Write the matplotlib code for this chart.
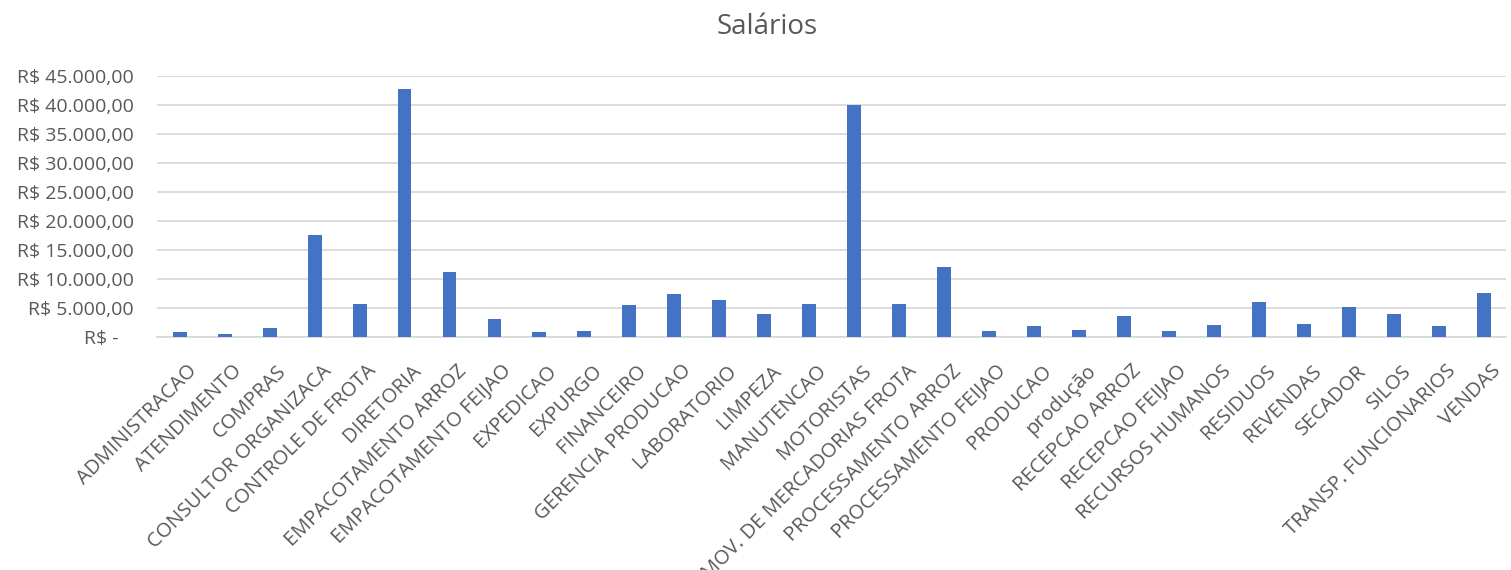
import numpy as np
import matplotlib.pyplot as plt
import matplotlib.transforms as mtransforms
from matplotlib.ticker import FuncFormatter

# setores e salarios
setores = ["ADMINISTRACAO", "ATENDIMENTO", "COMPRAS", "CONSULTOR ORGANIZACA",
           "CONTROLE DE FROTA", "DIRETORIA", "EMPACOTAMENTO ARROZ",
           "EMPACOTAMENTO FEIJAO", "EXPEDICAO", "EXPURGO", "FINANCEIRO",
           "GERENCIA PRODUCAO", "LABORATORIO", "LIMPEZA", "MANUTENCAO",
           "MOTORISTAS", "MOV. DE MERCADORIAS FROTA", "PROCESSAMENTO ARROZ",
           "PROCESSAMENTO FEIJAO", "PRODUCAO", "produção", "RECEPCAO ARROZ",
           "RECEPCAO FEIJAO", "RECURSOS HUMANOS", "RESIDUOS", "REVENDAS",
           "SECADOR", "SILOS", "TRANSP. FUNCIONARIOS", "VENDAS"]
salarios = [850, 650, 1550, 17650, 5700, 42700, 11250, 3150, 1000, 1070,
            5560, 7400, 6420, 3960, 5730, 39900, 5730, 12150, 1070, 1950,
            1320, 3610, 1030, 2180, 6020, 2290, 5220, 3960, 1950, 7680]
yticks = np.arange(0, 45001, 5000)

def fmt_real(v, pos):
    if v == 0:
        return "R$ -   "
    s = "{:,.2f}".format(v).replace(",", "X").replace(".", ",").replace("X", ".")
    return "R$ " + s

plt.rcParams['font.family'] = ['Open Sans', 'DejaVu Sans']
cinza = "#595959"

fig = plt.figure(figsize=(15.11, 5.70), dpi=100)
ax = fig.add_axes([0.104, 0.408, 0.893, 0.459])

x = np.arange(len(setores))
ax.bar(x, salarios, width=0.31, color="#4472C4", zorder=3)

ax.set_xlim(-0.5, len(setores) - 0.5)
ax.set_ylim(0, 45000)
ax.set_yticks(yticks)
ax.yaxis.set_major_formatter(FuncFormatter(fmt_real))
ax.grid(axis="y", color="#D9D9D9", linewidth=1.3, zorder=0)

ax.set_xticks(x)
ax.set_xticklabels(setores, rotation=45, ha="right", va="top", rotation_mode="anchor")
ax.tick_params(axis="both", length=0, colors=cinza)
ax.tick_params(axis="y", labelsize=14, pad=17)
ax.tick_params(axis="x", labelsize=14.5, pad=17)

# desloca um pouco os rotulos do eixo x para a direita
desloc = mtransforms.ScaledTranslation(7 / 100, 0, fig.dpi_scale_trans)
for lbl in ax.get_xticklabels():
    lbl.set_transform(lbl.get_transform() + desloc)

for lado in ["top", "right", "left"]:
    ax.spines[lado].set_visible(False)
ax.spines["bottom"].set_color("#D9D9D9")
ax.spines["bottom"].set_linewidth(1.3)

fig.text(0.508, 0.952, "Salários", ha="center", va="center", fontsize=20, color=cinza)

fig.savefig("out.png", dpi=100)
